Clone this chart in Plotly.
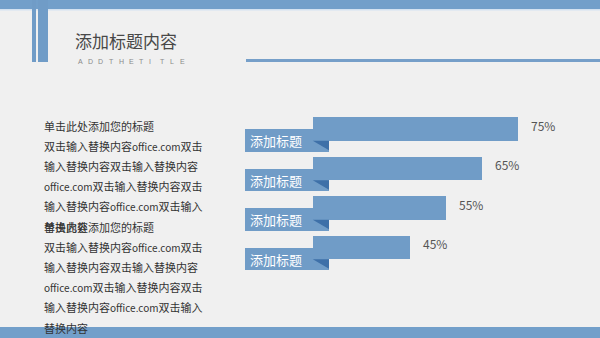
import plotly.graph_objects as go

# ---------------- data ----------------
tags = ["添加标题", "添加标题", "添加标题", "添加标题"]
values = [75, 65, 55, 45]
value_labels = ["75%", "65%", "55%", "45%"]

title_text = "添加标题内容"
subtitle_text = "ADDTHETITLE"

para1 = ["单击此处添加您的标题",
         "双击输入替换内容office.com双击",
         "输入替换内容双击输入替换内容",
         "office.com双击输入替换内容双击",
         "输入替换内容office.com双击输入",
         "替换内容"]
para2 = ["单击此处添加您的标题",
         "双击输入替换内容office.com双击",
         "输入替换内容双击输入替换内容",
         "office.com双击输入替换内容双击",
         "输入替换内容office.com双击输入",
         "替换内容"]

# ---------------- style ----------------
W, H = 600, 338
BG = "#f0f0f0"
BLUE = "#709cc7"
DARK = "#3e70a8"
FONT = "Noto Sans CJK SC"
BAR_BASE = 18        # where the bars start on the value axis
TAG_START = -0.8     # tag box left edge on the value axis
TAG_END = 22.5       # tag box right edge on the value axis
PX_PER_PCT = 3.6
ZERO_PX = 248
ROW_PX = 39.5
FIRST_ROW_PX = 129

def py(p):  # pixel-from-top -> paper y
    return 1 - p / H

def px(p):
    return p / W

idx = list(range(len(values)))

fig = go.Figure()

# main bars
fig.add_trace(go.Bar(
    orientation="h", y=idx, x=[v - BAR_BASE for v in values], base=BAR_BASE,
    width=0.6, marker=dict(color=BLUE, line=dict(width=0)),
    hoverinfo="skip", showlegend=False))

# tag boxes
fig.add_trace(go.Bar(
    orientation="h", y=idx, x=[TAG_END - TAG_START] * len(values), base=TAG_START,
    width=0.58, offset=0, marker=dict(color=BLUE, line=dict(width=0)),
    hoverinfo="skip", showlegend=False))

# fold triangles
for i in idx:
    fig.add_trace(go.Scatter(
        x=[BAR_BASE, TAG_END, TAG_END, BAR_BASE],
        y=[i + 0.3, i + 0.3, i + 0.54, i + 0.3],
        mode="lines", fill="toself", fillcolor=DARK,
        line=dict(width=0, color=DARK), hoverinfo="skip", showlegend=False))

annotations = []
for i, (t, v, lab) in enumerate(zip(tags, values, value_labels)):
    annotations.append(dict(x=TAG_START + 0.7, y=i + 0.3, xref="x", yref="y", text=t,
                            showarrow=False, xanchor="left", yanchor="middle",
                            font=dict(family=FONT, size=13, color="white")))
    annotations.append(dict(x=v, y=i, xref="x", yref="y", text=lab,
                            showarrow=False, xanchor="left", yanchor="middle",
                            xshift=11, yshift=4,
                            font=dict(family=FONT, size=12, color="#555555")))

# title
annotations.append(dict(x=px(73), y=py(41), xref="paper", yref="paper", text=title_text,
                        showarrow=False, xanchor="left", yanchor="middle",
                        font=dict(family=FONT, size=17, color="#484848")))
for k, ch in enumerate(subtitle_text):
    annotations.append(dict(x=px(76 + 10.2 * k), y=py(61), xref="paper", yref="paper",
                            text=ch, showarrow=False, xanchor="left", yanchor="middle",
                            font=dict(family="Liberation Sans", size=7, color="#8a8a8a")))

# left paragraphs
def fmt(line):
    return line.replace("office.com", '<span style="font-size:10px">office.com</span>')

def add_para(lines, start_row):
    for r, line in enumerate(lines):
        row = start_row + r
        annotations.append(dict(x=px(42), y=py(125.5 + 20.2 * row), xref="paper", yref="paper",
                                text=fmt(line), showarrow=False, xanchor="left", yanchor="middle",
                                font=dict(family=FONT, size=11, color="#333333")))

add_para(para1, 0)
add_para(para2, 5)

shapes = [
    # top band
    dict(type="rect", xref="paper", yref="paper", x0=0, x1=1, y0=py(9), y1=1,
         fillcolor="#729fca", line=dict(width=0), layer="above"),
    dict(type="rect", xref="paper", yref="paper", x0=0, x1=1, y0=py(10.5), y1=py(9),
         fillcolor="#d3e2f1", line=dict(width=0), layer="above"),
    # vertical bars
    dict(type="rect", xref="paper", yref="paper", x0=px(32), x1=px(36), y0=py(62), y1=1,
         fillcolor=BLUE, line=dict(width=0), layer="above"),
    dict(type="rect", xref="paper", yref="paper", x0=px(38), x1=px(48), y0=py(62), y1=1,
         fillcolor=BLUE, line=dict(width=0), layer="above"),
    # right rule
    dict(type="rect", xref="paper", yref="paper", x0=px(246), x1=1, y0=py(62), y1=py(59),
         fillcolor="#769fc9", line=dict(width=0), layer="above"),
    # bottom band
    dict(type="rect", xref="paper", yref="paper", x0=0, x1=1, y0=0, y1=py(327),
         fillcolor="#729fca", line=dict(width=0), layer="above"),
]

fig.update_layout(
    width=W, height=H, margin=dict(l=0, r=0, t=0, b=0),
    paper_bgcolor=BG, plot_bgcolor=BG, barmode="overlay", bargap=0,
    showlegend=False, annotations=annotations, shapes=shapes,
    xaxis=dict(range=[-ZERO_PX / PX_PER_PCT, (W - ZERO_PX) / PX_PER_PCT], domain=[0, 1],
               visible=False, fixedrange=True),
    yaxis=dict(range=[(H - FIRST_ROW_PX) / ROW_PX, -FIRST_ROW_PX / ROW_PX], domain=[0, 1],
               visible=False, fixedrange=True),
)

fig.write_html("out.html", config={"displayModeBar": False})
